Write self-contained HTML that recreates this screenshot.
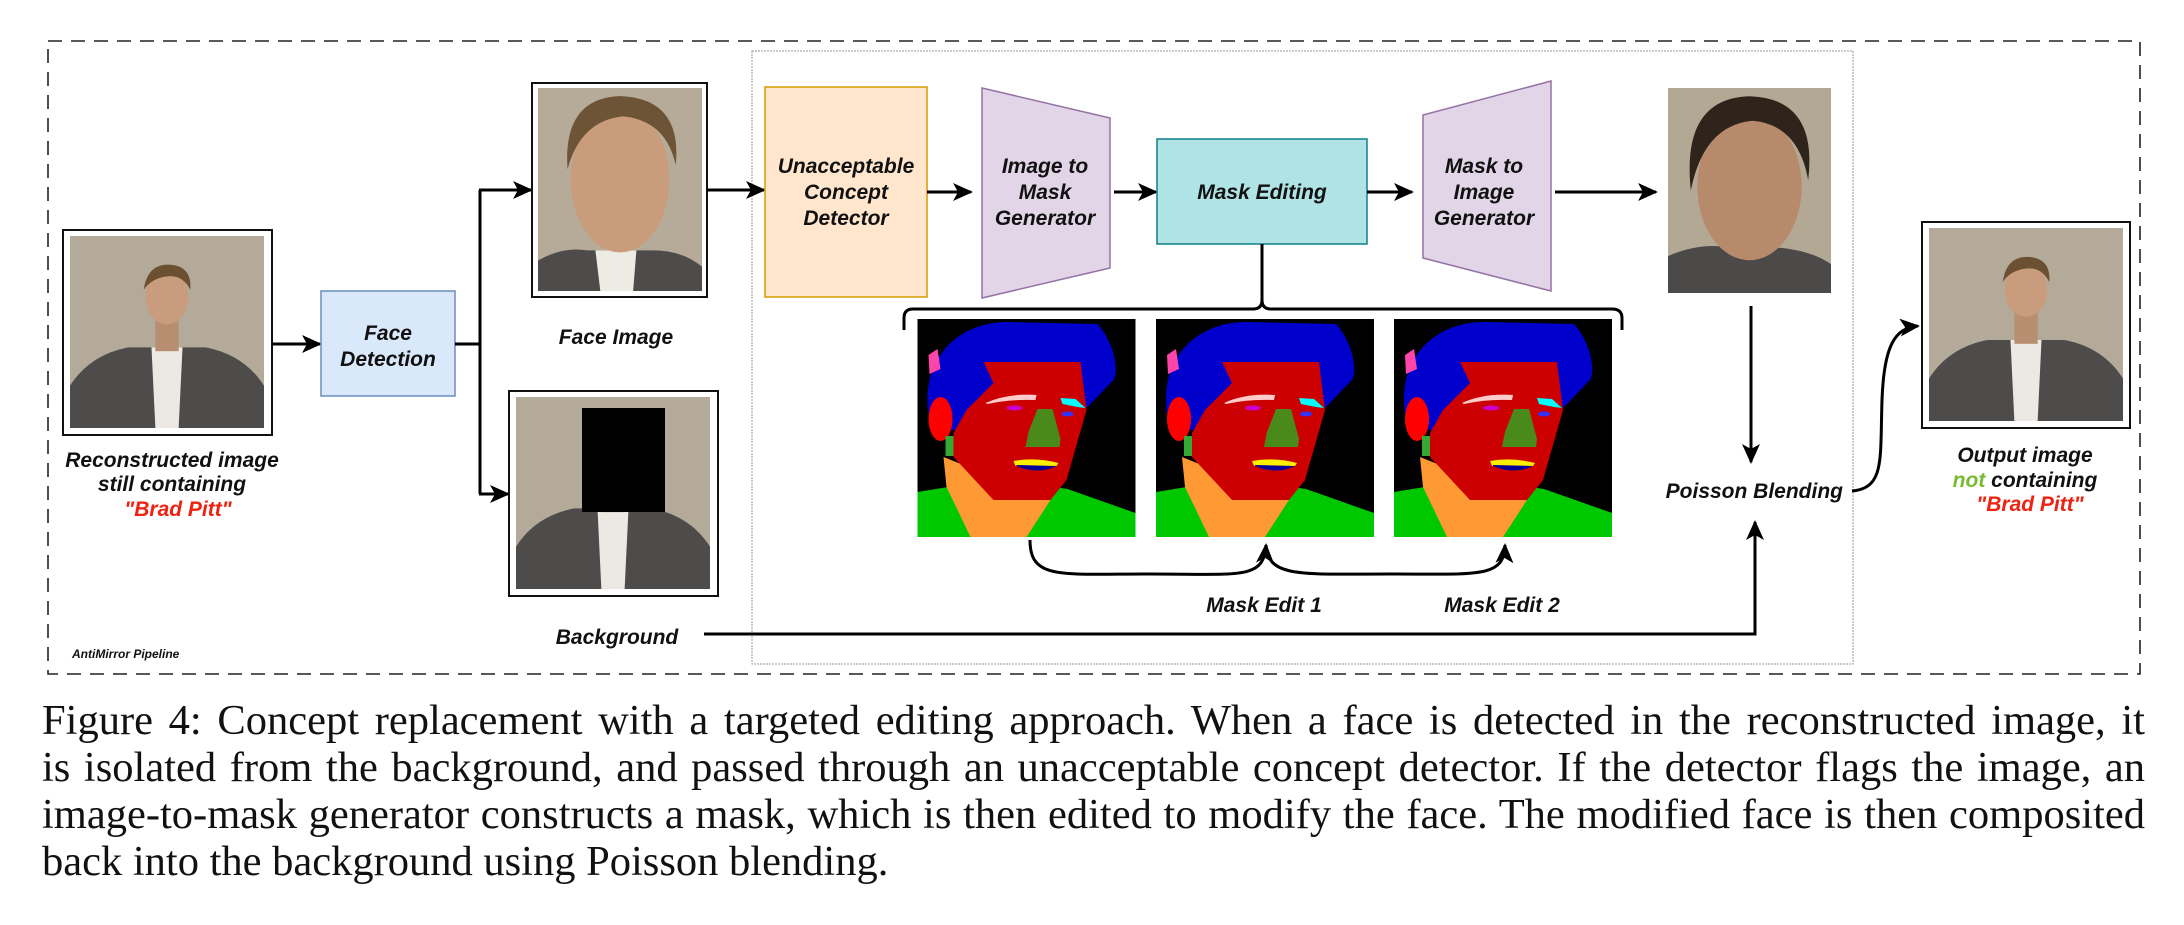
<!DOCTYPE html>
<html><head><meta charset="utf-8"><style>
html,body{margin:0;padding:0;background:#fff;width:2184px;height:925px;overflow:hidden;position:relative}
svg{position:absolute;left:0;top:0}
.t{font-family:"Liberation Sans",sans-serif;font-weight:bold;font-style:italic;font-size:21px;fill:#111}
.cap{position:absolute;left:42px;width:2103px;font-family:"Liberation Serif",serif;font-size:42.5px;line-height:47px;color:#111;text-align:justify;text-align-last:justify;white-space:nowrap}
</style></head><body>
<svg width="2184" height="925" viewBox="0 0 2184 925">
<defs>
<marker id="b" markerWidth="20" markerHeight="20" refX="18" refY="10" orient="auto" markerUnits="userSpaceOnUse" viewBox="0 0 20 20"><path d="M0,1 L20,10 L0,19 L5,10 Z" fill="#000"/></marker>
<g id="mask">
<rect x="0" y="0" width="218" height="218" fill="#000"/>
<path d="M0,173 L80,160 L150,170 L218,194 L218,218 L0,218 Z" fill="#00c800"/>
<path d="M26,138 L133,181 L109,218 L53,218 L29,168 Z" fill="#ff9933"/>
<path d="M11,95 C3,40 40,3 90,3 L180,5 C198,25 202,55 195,62 L170,88 L60,112 L20,110 Z" fill="#0000cc"/>
<path d="M66,43 L163,43 L169,91 L149,161 L133,181 L76,181 L36,138 L36,114 L49,91 L76,64 Z" fill="#cc0000"/>
<ellipse cx="23" cy="100" rx="12" ry="22" fill="#ff0000"/>
<rect x="28" y="117" width="8" height="20" fill="#33aa33"/>
<path d="M120,90 L135,90 L143,120 L142,128 L108,128 L111,113 Z" fill="#4a8a1a"/>
<path d="M96,142 Q118,138 141,144 L139,147 L98,147 Z" fill="#ffee00"/>
<path d="M99,146 L139,147 Q120,156 99,147 Z" fill="#000099"/>
<path d="M68,84 Q90,74 119,76 L118,81 Q92,80 70,85 Z" fill="#ffcccc"/>
<path d="M143,79 L158,80 L168,89 L160,88 L145,85 Z" fill="#00ffff"/>
<ellipse cx="97" cy="89" rx="8" ry="2.5" fill="#cc00cc"/>
<ellipse cx="150" cy="95" rx="6" ry="2.5" fill="#3333ff"/>
<path d="M11,36 L20,30 L23,50 L12,55 Z" fill="#ff44aa"/>
</g>
<g id="person">
<rect width="100" height="100" fill="#b4aa9a"/>
<path d="M0,100 L0,78 Q10,62 30,58 L70,58 Q90,62 100,78 L100,100 Z" fill="#4d4c4a"/>
<path d="M42,58 L58,58 L56,100 L44,100 Z" fill="#ece9e4"/>
<rect x="44" y="42" width="12" height="18" fill="#b88e70"/>
<ellipse cx="50" cy="32" rx="11" ry="14" fill="#c89c7c"/>
<path d="M38,28 Q40,14 52,15 Q63,16 62,28 Q58,20 50,21 Q42,22 38,28 Z" fill="#6b5032"/>
</g>
</defs>

<rect x="48" y="41" width="2092" height="633" fill="none" stroke="#222" stroke-width="1.6" stroke-dasharray="14,9"/>
<rect x="752" y="51" width="1101" height="613" fill="none" stroke="#999" stroke-width="1" stroke-dasharray="2,1"/>

<rect x="63" y="230" width="209" height="205" fill="#fff" stroke="#111" stroke-width="2"/>
<svg x="70" y="236" width="194" height="192" viewBox="0 0 100 100" preserveAspectRatio="none"><use href="#person"/></svg>
<text class="t" x="172" y="467" text-anchor="middle">Reconstructed image</text>
<text class="t" x="172" y="491" text-anchor="middle">still containing</text>
<text class="t" x="178" y="516" text-anchor="middle" style="fill:#ee2211">"Brad Pitt"</text>

<line x1="272" y1="344" x2="320" y2="344" stroke="#000" stroke-width="3" marker-end="url(#b)"/>
<rect x="321" y="291" width="134" height="105" fill="#dae8fc" stroke="#6c8ebf" stroke-width="1.5"/>
<text class="t" x="388" y="340" text-anchor="middle">Face</text>
<text class="t" x="388" y="366" text-anchor="middle">Detection</text>
<path d="M455,344 L480,344 M480,190 L480,494" stroke="#000" stroke-width="3" fill="none"/>
<line x1="479" y1="190" x2="531" y2="190" stroke="#000" stroke-width="3" marker-end="url(#b)"/>
<line x1="479" y1="494" x2="508" y2="494" stroke="#000" stroke-width="3" marker-end="url(#b)"/>

<rect x="532" y="83" width="175" height="214" fill="#fff" stroke="#111" stroke-width="2"/>
<svg x="538" y="88" width="164" height="203" viewBox="0 0 100 100" preserveAspectRatio="none">
<rect width="100" height="100" fill="#b6ab99"/>
<path d="M0,100 L0,85 Q15,78 30,80 L70,80 Q88,80 100,88 L100,100 Z" fill="#4d4c4a"/>
<path d="M35,80 L60,80 L58,100 L38,100 Z" fill="#eeeae4"/>
<ellipse cx="50" cy="45" rx="30" ry="36" fill="#c99c7c"/>
<path d="M18,40 Q15,5 50,4 Q88,5 84,38 Q78,16 52,14 Q26,16 18,40 Z" fill="#6e5436"/>
</svg>
<text class="t" x="616" y="344" text-anchor="middle">Face Image</text>

<rect x="509" y="391" width="209" height="205" fill="#fff" stroke="#111" stroke-width="2"/>
<svg x="516" y="397" width="194" height="192" viewBox="0 0 100 100" preserveAspectRatio="none"><use href="#person"/></svg>
<rect x="582" y="408" width="83" height="104" fill="#000"/>
<text class="t" x="617" y="644" text-anchor="middle">Background</text>
<path d="M704,634 L1755,634 L1755,522" stroke="#000" stroke-width="3" fill="none" marker-end="url(#b)"/>

<line x1="707" y1="190" x2="764" y2="190" stroke="#000" stroke-width="3" marker-end="url(#b)"/>
<rect x="765" y="87" width="162" height="210" fill="#ffe6cc" stroke="#d79b00" stroke-width="1.5"/>
<text class="t" x="846" y="173" text-anchor="middle">Unacceptable</text>
<text class="t" x="846" y="199" text-anchor="middle">Concept</text>
<text class="t" x="846" y="225" text-anchor="middle">Detector</text>
<line x1="927" y1="192" x2="971" y2="192" stroke="#000" stroke-width="3" marker-end="url(#b)"/>

<path d="M982,88 L1110,118 L1110,268 L982,298 Z" fill="#e1d5e7" stroke="#9673a6" stroke-width="1.5"/>
<text class="t" x="1045" y="173" text-anchor="middle">Image to</text>
<text class="t" x="1045" y="199" text-anchor="middle">Mask</text>
<text class="t" x="1045" y="225" text-anchor="middle">Generator</text>
<line x1="1114" y1="192" x2="1156" y2="192" stroke="#000" stroke-width="3" marker-end="url(#b)"/>

<rect x="1157" y="139" width="210" height="105" fill="#b0e3e6" stroke="#0e8088" stroke-width="1.5"/>
<text class="t" x="1262" y="199" text-anchor="middle">Mask Editing</text>
<line x1="1367" y1="192" x2="1412" y2="192" stroke="#000" stroke-width="3" marker-end="url(#b)"/>

<path d="M1423,115 L1551,81 L1551,291 L1423,258 Z" fill="#e1d5e7" stroke="#9673a6" stroke-width="1.5"/>
<text class="t" x="1484" y="173" text-anchor="middle">Mask to</text>
<text class="t" x="1484" y="199" text-anchor="middle">Image</text>
<text class="t" x="1484" y="225" text-anchor="middle">Generator</text>
<line x1="1555" y1="192" x2="1656" y2="192" stroke="#000" stroke-width="3" marker-end="url(#b)"/>

<svg x="1668" y="88" width="163" height="205" viewBox="0 0 100 100" preserveAspectRatio="none">
<rect width="100" height="100" fill="#b3a894"/>
<path d="M0,100 L0,82 Q20,75 40,78 L70,78 Q90,80 100,86 L100,100 Z" fill="#4b4a48"/>
<ellipse cx="50" cy="48" rx="32" ry="36" fill="#b88a6c"/>
<path d="M14,50 Q8,5 50,4 Q92,5 86,45 Q80,18 52,16 Q22,18 14,50 Z" fill="#2e241c"/>
</svg>
<line x1="1751" y1="306" x2="1751" y2="462" stroke="#000" stroke-width="3" marker-end="url(#b)"/>
<text class="t" x="1843" y="498" text-anchor="end">Poisson Blending</text>
<path d="M1852,491 C1885,488 1880,460 1882,400 C1884,345 1895,328 1918,326" stroke="#000" stroke-width="3" fill="none" marker-end="url(#b)"/>

<rect x="1922" y="222" width="208" height="206" fill="#fff" stroke="#111" stroke-width="2"/>
<svg x="1929" y="228" width="194" height="193" viewBox="0 0 100 100" preserveAspectRatio="none"><use href="#person"/></svg>
<text class="t" x="2025" y="462" text-anchor="middle">Output image</text>
<text class="t" x="2025" y="487" text-anchor="middle"><tspan style="fill:#77bb33">not</tspan> containing</text>
<text class="t" x="2030" y="511" text-anchor="middle" style="fill:#ee2211">"Brad Pitt"</text>

<path d="M1262,244 L1262,300 Q1262,309 1253,309 L913,309 Q904,309 904,318 L904,330 M1262,300 Q1262,309 1271,309 L1612,309 Q1622,309 1622,318 L1622,330" stroke="#000" stroke-width="3" fill="none"/>

<svg x="917" y="319" width="219" height="218" viewBox="0 0 218 218"><use href="#mask"/></svg>
<svg x="1156" y="319" width="218" height="218" viewBox="0 0 218 218"><use href="#mask"/></svg>
<svg x="1394" y="319" width="218" height="218" viewBox="0 0 218 218"><use href="#mask"/></svg>

<path d="M1030,540 C1030,580 1060,574 1150,574 C1240,574 1264,580 1266,545" stroke="#000" stroke-width="3" fill="none" marker-end="url(#b)"/>
<path d="M1266,545 C1268,578 1300,574 1390,574 C1480,574 1504,578 1505,545" stroke="#000" stroke-width="3" fill="none" marker-end="url(#b)"/>
<text class="t" x="1264" y="612" text-anchor="middle">Mask Edit 1</text>
<text class="t" x="1502" y="612" text-anchor="middle">Mask Edit 2</text>

<text class="t" x="72" y="658" style="font-size:12px">AntiMirror Pipeline</text>
</svg>

<div class="cap" style="top:697px">Figure 4: Concept replacement with a targeted editing approach. When a face is detected in the reconstructed image, it</div>
<div class="cap" style="top:744px">is isolated from the background, and passed through an unacceptable concept detector. If the detector flags the image, an</div>
<div class="cap" style="top:791px">image-to-mask generator constructs a mask, which is then edited to modify the face. The modified face is then composited</div>
<div class="cap" style="top:838px;text-align-last:left">back into the background using Poisson blending.</div>
</body></html>
